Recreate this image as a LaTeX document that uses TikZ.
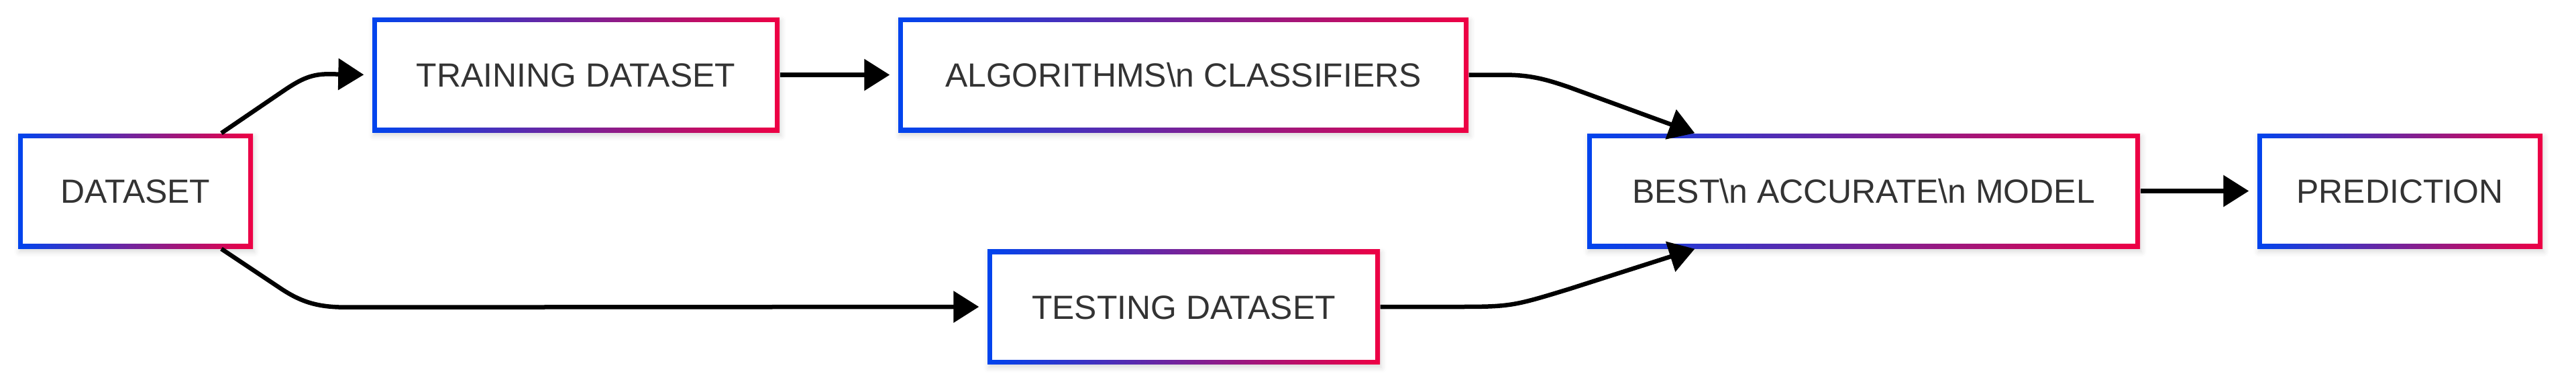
\documentclass[tikz,border=0pt]{standalone}
\usepackage{fontspec}
\setmainfont{Liberation Sans}
\usepackage{tikz}
\usetikzlibrary{arrows.meta,shadows.blur,calc}
\definecolor{mmblue}{RGB}{0,68,238}
\definecolor{mmred}{RGB}{238,0,68}
\definecolor{mmtext}{RGB}{51,51,51}
\tikzset{
  block/.style={
    shape = rectangle,
    left color = mmblue,
    right color = mmred,
    minimum height = 1.71cm,
    inner sep = 0cm,
    text = mmtext,
    text height = 0.36cm,
    text depth = 0cm,
    font = \fontsize{14.2pt}{17pt}\selectfont,
    blur shadow = {shadow xshift=0.02cm, shadow yshift=-0.05cm, shadow blur radius=0.08cm, shadow opacity=15},
    path picture = {
      \fill[white] ([shift={(0.07,-0.07)}]path picture bounding box.north west)
        rectangle ([shift={(-0.07,0.07)}]path picture bounding box.south east);
    }
  },
  flow/.style={
    line width = 0.065cm,
    -{Triangle[length=0.38cm,width=0.46cm]},
    shorten > = 0.12cm
  }
}

\begin{document}
\begin{tikzpicture}
    \def\rowa{-1.115}
    \def\rowb{-2.845}
    \def\rowc{-4.57}
    \useasboundingbox (0,0) rectangle (38.4,-5.71);
    \node[block, minimum width=3.50cm] (data) at (2.02,\rowb) {DATASET};
    \node[block, minimum width=6.07cm] (train) at (8.585,\rowa) {TRAINING DATASET};
    \node[block, minimum width=8.50cm] (algo) at (17.64,\rowa) {ALGORITHMS\textbackslash n CLASSIFIERS};
    \node[block, minimum width=5.85cm] (test) at (17.645,\rowc) {TESTING DATASET};
    \node[block, minimum width=8.24cm] (best) at (27.78,\rowb) {BEST\textbackslash n ACCURATE\textbackslash n MODEL};
    \node[block, minimum width=4.25cm] (pred) at (35.775,\rowb) {PREDICTION};
    \draw[flow] ([xshift=1.28cm]data.north) -- ++(0.97,0.66)
        to[out=33,in=180] ++(0.63,0.22) -- (train.west);
    \draw[flow] ([xshift=1.28cm]data.south) -- ++(0.87,-0.58)
        to[out=-34,in=180] ++(1.0,-0.29) -- (test.west);
    \draw[flow] (train) -- (algo);
    \draw[flow, shorten >=0cm] (algo.east) -- ++(0.51,0)
        to[out=0,in=161] ++(1.0,-0.19) -- ([xshift=1.61cm]best.north west);
    \draw[flow, shorten >=0cm] (test.east) -- ++(1.0,0)
        to[out=0,in=197,looseness=1.3] ++(1.83,0.27) -- ([xshift=1.61cm]best.south west);
    \draw[flow] (best) -- (pred);
\end{tikzpicture}
\end{document}
